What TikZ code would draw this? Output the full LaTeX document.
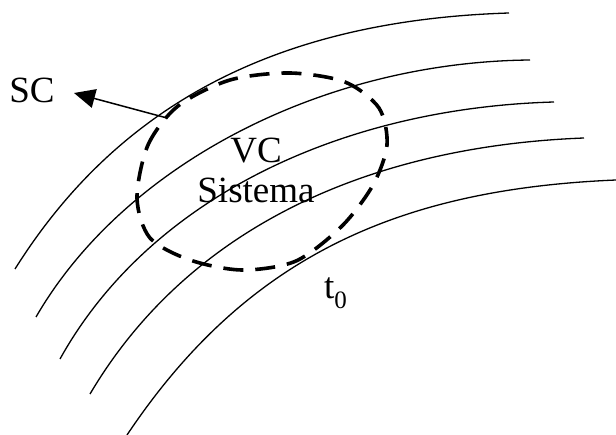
\documentclass[tikz,border=0pt]{standalone}
\usepackage{fontspec}
\setmainfont{Liberation Serif}
\usepackage{tikz}
\usetikzlibrary{arrows.meta}
\tikzset{streamline/.style={line width=1.3pt},
cvline/.style={line width=3.6pt,dash pattern=on 20pt off 12pt},
normal/.style={-{Triangle[length=21pt,width=19pt]},line width=1.5pt},
txt/.style={inner sep=0pt,font=\fontsize{37}{40}\selectfont}}

\begin{document}
\begin{tikzpicture}[x=1pt,y=-1pt]
\useasboundingbox (0,0) rectangle (616,435);
% streamlines
\draw[streamline] (15,269) .. controls (123,97) and (288,20) .. (509,13);
\draw[streamline] (36,317) .. controls (124,165) and (322,62) .. (530,60);
\draw[streamline] (60,359) .. controls (149,199) and (340,108) .. (554,102);
\draw[streamline] (90,394) .. controls (190,225) and (373,146) .. (584,138);
\draw[streamline] (127,435) .. controls (248,254) and (402,189) .. (616,180);
% control volume
\draw[cvline] plot[smooth cycle] coordinates {(137,198) (148,145) (178,106) (230,80) (290,73) (345,82) (379,108) (387,145) (373,185) (342,226) (296,261) (242,270) (190,260) (150,238)};
\node[txt,align=center] (vc) at (256,170) {VC\\Sistema};
\node[txt] (sc) at (32,90) {SC};
\node[txt,anchor=base west] (t0) at (324,299) {t\raisebox{-10pt}{\fontsize{25}{25}\selectfont 0}};
\coordinate (foot) at (167,118);
\coordinate (tip) at (74,93);
\draw[normal] (foot) -- (tip);
\end{tikzpicture}
\end{document}
